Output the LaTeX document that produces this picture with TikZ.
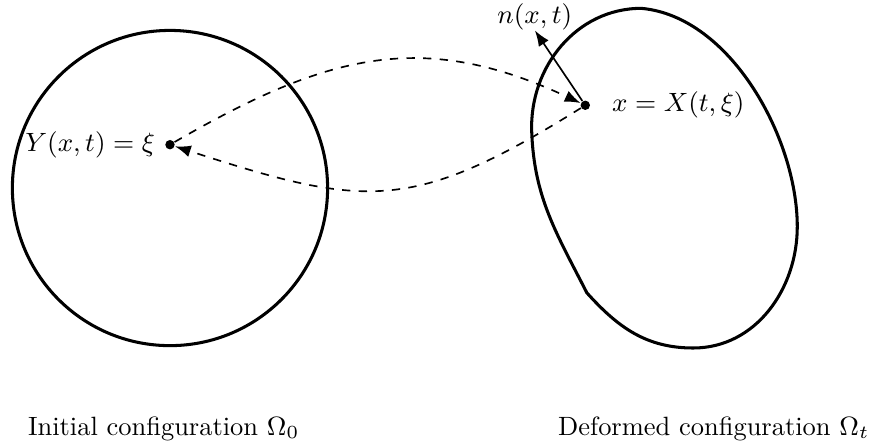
\documentclass[tikz,border=0pt]{standalone}
\usepackage{fix-cm}
\usepackage{tikz}
\usetikzlibrary{arrows.meta, positioning}

\begin{document}
\begin{tikzpicture}[
  every node/.style={font=\fontsize{9.55pt}{11.5pt}\selectfont},
  bodyline/.style={line width=1.1pt},
  dot/.style={circle, fill, inner sep=0pt, minimum size=3.4pt},
  maparrow/.style={dashed, semithick, -{Latex}},
]
\useasboundingbox (-2.157,-3.261) rectangle (8.87,2.386);

% Initial body
\draw[bodyline] (0,0) circle (2cm);

% Deformed body
\coordinate (ka) at (5.29,-1.33);
\coordinate (kb) at (4.59,0.72);
\coordinate (kc) at (5.98,2.28);
\coordinate (kd) at (7.96,-0.49);
\coordinate (ke) at (6.64,-2.03);
\draw[bodyline] (ka) to[out=117, in=-88] (kb)
  to[out=92, in=180] (kc)
  to[out=-5, in=90, looseness=0.85] (kd)
  to[out=-90, in=0] (ke)
  to[out=180, in=-48] (ka) -- cycle;

% Points
\node[dot] (ypt) at (0,0.55) {};
\node[dot] (xpt) at (5.27,1.05) {};
\node[left=0cm of ypt] (ylab) {$Y(x,t) = \xi$};
\node[right=0.15cm of xpt] (xlab) {$x = X(t,\xi)$};

% Normal
\coordinate (ntip) at (4.63,2.0);
\draw[semithick, -{Latex}] (xpt) -- (ntip);
\node[above, inner sep=0pt] (nlab) at (ntip) {$n(x,t)$};

% Maps
\draw[maparrow] (ypt) to[out=30, in=155, looseness=1.1] (xpt);
\draw[maparrow] (xpt) to[out=212, in=-18, looseness=1.25] (ypt);

% Captions
\node (initlab) at (-0.08,-3.06) {Initial configuration $\Omega_0$};
\node (deflab) at (6.90,-3.06) {Deformed configuration $\Omega_t$};
\end{tikzpicture}
\end{document}
